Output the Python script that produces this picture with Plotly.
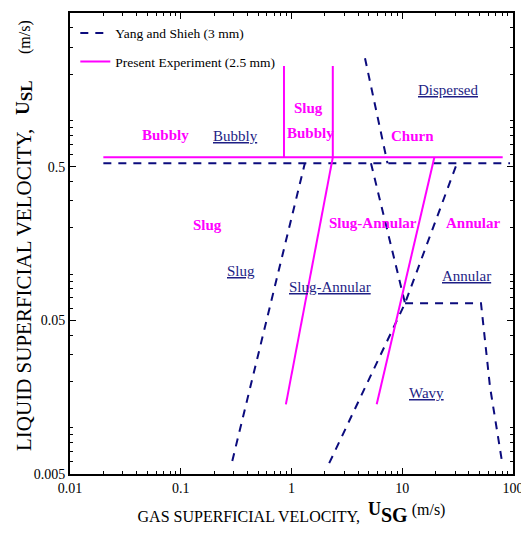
import plotly.graph_objects as go

# ---- Yang and Shieh (3 mm) transition boundaries (USG m/s, USL m/s) ----
yang_h_x = [0.02, 94]
yang_h_y = [0.526, 0.526]
yang_a_x = [0.292, 1.32]
yang_a_y = [0.00608, 0.526]
yang_b1_x = [4.61, 7.36]
yang_b1_y = [2.54, 0.526]
yang_b2_x = [5.22, 10.6]
yang_b2_y = [0.526, 0.0646]
yang_c_x = [2.19, 10.6, 31.2]
yang_c_y = [0.00588, 0.0646, 0.526]
yang_d_x = [10.6, 51.4, 62, 79.6]
yang_d_y = [0.0646, 0.0646, 0.01845, 0.006]

# ---- Present Experiment (2.5 mm) transition boundaries ----
pres_h_x = [0.02, 80.7]
pres_h_y = [0.575, 0.575]
pres_v1_x = [0.855, 0.855]
pres_v1_y = [0.575, 2.26]
pres_v2_x = [2.36, 2.36]
pres_v2_y = [0.575, 2.26]
pres_s1_x = [2.36, 0.89]
pres_s1_y = [0.575, 0.0142]
pres_s2_x = [19.5, 5.88]
pres_s2_y = [0.575, 0.0142]

# ---- Region labels ----
present_labels = ["Bubbly", "Slug", "Bubbly", "Churn", "Slug", "Slug-Annular", "Annular"]
yang_labels = ["Bubbly", "Dispersed", "Slug", "Slug-Annular", "Annular", "Wavy"]

# ---- Axis ticks ----
x_ticks = [0.01, 0.1, 1, 10, 100]
x_ticktext = ["0.01", "0.1", "1", "10", "100"]
y_ticks = [0.005, 0.05, 0.5, 5]
y_ticktext = ["0.005", "0.05", "0.5", "5"]


def join(*segs):
    xs, ys = [], []
    for sx, sy in segs:
        if xs:
            xs.append(None)
            ys.append(None)
        xs += list(sx)
        ys += list(sy)
    return xs, ys


NAVY = "#0b0b7d"
NAVY_TXT = "#1e1e85"
MAG = "#ff00ff"
FONT = "Liberation Serif"

yx, yy = join((yang_h_x, yang_h_y), (yang_a_x, yang_a_y), (yang_b1_x, yang_b1_y),
              (yang_b2_x, yang_b2_y), (yang_c_x, yang_c_y), (yang_d_x, yang_d_y))
px_, py_ = join((pres_h_x, pres_h_y), (pres_v1_x, pres_v1_y), (pres_v2_x, pres_v2_y),
                (pres_s1_x, pres_s1_y), (pres_s2_x, pres_s2_y))

fig = go.Figure()
fig.add_trace(go.Scatter(x=yx, y=yy, mode="lines", name="Yang and Shieh (3 mm)",
                         legendgroup="a", connectgaps=False,
                         line=dict(color=NAVY, width=2, dash="8px,7px")))
fig.add_trace(go.Scatter(x=px_, y=py_, mode="lines", name="Present Experiment (2.5 mm)",
                         legendgroup="b", connectgaps=False,
                         line=dict(color=MAG, width=2)))

# page body has an 8px offset; figure is sized so the plot lands where the reference has it
OFF = 8
W, H = 529 - OFF, 533 - OFF
L, R, T, B = 70 - OFF, 16, 13 - OFF, 59
PW, PH = W - L - R, H - T - B


def paper(px, py):
    return (px - OFF - L) / PW, 1 - (py - OFF - T) / PH


ann = []
present_pos = [(165, 135), (308, 108), (310, 133), (412, 136), (207, 225), (373, 223), (473, 223)]
for txt, (ax, ay) in zip(present_labels, present_pos):
    xp, ypp = paper(ax, ay)
    ann.append(dict(x=xp, y=ypp, xref="paper", yref="paper", text="<b>" + txt + "</b>",
                    showarrow=False, font=dict(family=FONT, size=15, color=MAG),
                    xanchor="center", yanchor="middle"))
yang_pos = [(235, 136), (448, 90), (241, 271), (330, 287), (466, 276), (426, 393)]
for txt, (ax, ay) in zip(yang_labels, yang_pos):
    xp, ypp = paper(ax, ay)
    ann.append(dict(x=xp, y=ypp, xref="paper", yref="paper", text="<u>" + txt + "</u>",
                    showarrow=False, font=dict(family=FONT, size=15, color=NAVY_TXT),
                    xanchor="center", yanchor="middle"))

# y-axis title, written as rotated text pieces
y_title_parts = [
    ("LIQUID SUPERFICIAL VELOCITY,", (24, 290), 21),
    ("<b><span style='font-size:19px'>U</span><sub><span style='font-size:17px'>SL</span></sub></b>",
     (24, 98), 15),
    ("(m/s)", (25, 37), 16),
]
for txt, (ax, ay), fs in y_title_parts:
    xp, ypp = paper(ax, ay)
    ann.append(dict(x=xp, y=ypp, xref="paper", yref="paper", text=txt, textangle=-90,
                    showarrow=False, font=dict(family=FONT, size=fs, color="black"),
                    xanchor="center", yanchor="middle"))

minor_x = [m * 10 ** e for e in range(-2, 2) for m in range(2, 10)]
minor_y = [m * 10 ** e for e in range(-3, 1) for m in range(1, 10)
           if 0.005 < m * 10 ** e < 5 and m * 10 ** e not in y_ticks]

axis_common = dict(showline=True, linecolor="black", linewidth=2, mirror="ticks",
                   ticks="inside", ticklen=6, tickwidth=1, tickcolor="black",
                   showgrid=False, zeroline=False,
                   tickfont=dict(family=FONT, size=14, color="black"))

x_title = ("GAS SUPERFICIAL VELOCITY,  <b><sup><span style='font-size:18px'>U</span></sup>"
           "<span style='font-size:20px'>SG</span></b>"
           " <sup><span style='font-size:16px'>(m/s)</span></sup>")

fig.update_xaxes(type="log", range=[-2, 2], tickmode="array", tickvals=x_ticks,
                 ticktext=x_ticktext,
                 minor=dict(tickmode="array", tickvals=minor_x, ticks="inside",
                            ticklen=3, tickcolor="black", showgrid=False),
                 title=dict(text=x_title,
                            font=dict(family=FONT, size=16, color="black"), standoff=16),
                 **axis_common)
fig.update_yaxes(type="log", range=[-2.30103, 0.69897], tickmode="array", tickvals=y_ticks,
                 ticktext=y_ticktext,
                 minor=dict(tickmode="array", tickvals=minor_y, ticks="inside",
                            ticklen=3, tickcolor="black", showgrid=False),
                 **axis_common)

fig.update_layout(
    width=W, height=H,
    margin=dict(l=L, r=R, t=T, b=B, autoexpand=False),
    plot_bgcolor="white", paper_bgcolor="white",
    annotations=ann,
    legend=dict(x=0.012, y=0.99, xanchor="left", yanchor="top",
                bgcolor="rgba(0,0,0,0)", borderwidth=0,
                font=dict(family=FONT, size=13.5, color="black"),
                tracegroupgap=8, traceorder="grouped"),
    showlegend=True,
)

fig.write_html("out.html")
